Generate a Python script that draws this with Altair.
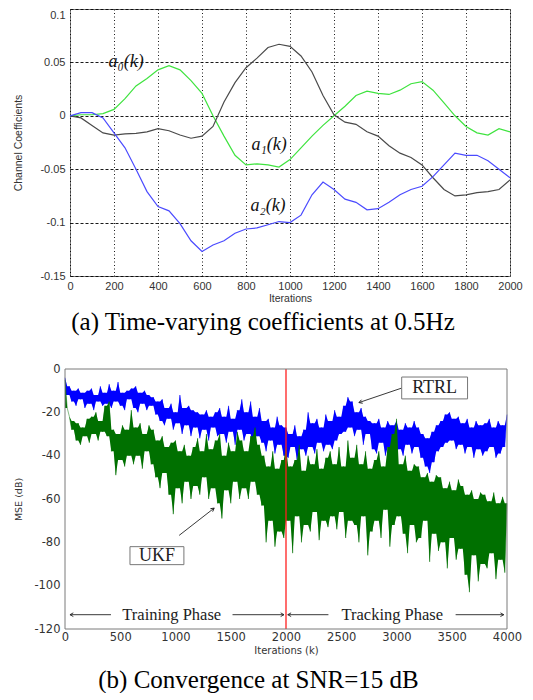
import altair as alt
import pandas as pd

# ---------------- panel (a) data ----------------
ITER_A = list(range(0, 2001, 50))
A0 = [0, 0.001, 0.001, 0.002, 0.006, 0.016, 0.028, 0.035, 0.043, 0.047, 0.043,
      0.033, 0.021, 0.0, -0.019, -0.037, -0.046, -0.045, -0.046, -0.048, -0.041,
      -0.030, -0.019, -0.009, 0.0, 0.009, 0.019, 0.023, 0.021, 0.020, 0.024,
      0.030, 0.032, 0.024, 0.012, 0.0, -0.010, -0.016, -0.018, -0.012, -0.015]
A1 = [0, -0.002, -0.009, -0.016, -0.018, -0.017, -0.0165, -0.015, -0.012, -0.014, -0.018,
      -0.021, -0.019, -0.010, 0.013, 0.031, 0.045, 0.054, 0.064, 0.067, 0.065,
      0.056, 0.041, 0.019, 0.001, -0.006, -0.008, -0.015, -0.019, -0.028, -0.035,
      -0.039, -0.046, -0.058, -0.069, -0.075, -0.074, -0.072, -0.071, -0.069, -0.060]
A2 = [0, 0.003, 0.003, -0.002, -0.016, -0.030, -0.050, -0.071, -0.085, -0.089, -0.101,
      -0.117, -0.127, -0.121, -0.117, -0.110, -0.106, -0.105, -0.102, -0.099, -0.100,
      -0.093, -0.074, -0.062, -0.069, -0.078, -0.081, -0.088, -0.087, -0.081, -0.074,
      -0.069, -0.066, -0.057, -0.046, -0.035, -0.037, -0.037, -0.042, -0.050, -0.058]
SERIES_A = ["a0", "a1", "a2"]
COLORS_A = ["#3fe33f", "#4a4a4a", "#4b4bff"]
LABELS_A = ["a\u2080(k)", "a\u2081(k)", "a\u2082(k)"]
LABEL_K_A = [255, 905, 900]
LABEL_V_A = [0.050, -0.027, -0.084]
X_TICKS_A = list(range(0, 2001, 200))
Y_TICKS_A = [0.1, 0.05, 0, -0.05, -0.1, -0.15]

# ---------------- panel (b) data ----------------
ITER_B = list(range(0, 4001, 20))
RTRL = [-4, -12, -8, -15, -10, -17, -9, -14, -11, -18,
        -10, -16, -9, -19, -12, -15, -8, -17, -11, -16,
        -7, -18, -10, -15, -6, -17, -11, -19, -10, -14,
        -9, -18, -8, -20, -11, -16, -10, -19, -12, -17,
        -13, -21, -15, -24, -14, -26, -18, -23, -16, -28,
        -20, -25, -12, -30, -18, -26, -17, -31, -19, -27,
        -20, -32, -21, -28, -19, -33, -22, -27, -20, -31,
        -18, -30, -22, -34, -17, -29, -23, -35, -19, -28,
        -14, -33, -20, -30, -15, -36, -22, -31, -18, -34,
        -24, -38, -23, -33, -27, -39, -22, -35, -26, -40,
        -27, -41, -30, -36, -26, -42, -31, -37, -28, -40,
        -20, -36, -25, -39, -23, -34, -27, -38, -21, -35,
        -24, -37, -19, -33, -22, -30, -17, -29, -13, -27,
        -15, -31, -20, -28, -18, -35, -22, -30, -24, -37,
        -25, -39, -23, -34, -27, -40, -24, -36, -26, -38,
        -24, -37, -28, -40, -25, -35, -27, -39, -24, -36,
        -27, -41, -30, -45, -32, -48, -29, -43, -26, -38,
        -24, -36, -21, -34, -20, -33, -23, -37, -22, -35,
        -25, -39, -23, -36, -27, -41, -24, -37, -26, -40,
        -25, -38, -23, -36, -27, -41, -24, -39, -26, -36,
        -21]
UKF = [-5, -18, -22, -28, -24, -33, -25, -35, -27, -31,
       -23, -34, -22, -30, -20, -33, -24, -29, -17, -31,
       -15, -38, -28, -49, -30, -42, -26, -45, -28, -40,
       -19, -44, -27, -40, -25, -46, -30, -38, -26, -44,
       -28, -50, -33, -55, -31, -48, -36, -58, -34, -67,
       -33, -55, -38, -62, -35, -52, -40, -60, -36, -54,
       -32, -58, -38, -50, -30, -60, -37, -55, -33, -62,
       -30, -69, -40, -56, -34, -62, -38, -52, -29, -60,
       -33, -55, -38, -60, -31, -52, -27, -58, -35, -63,
       -40, -80, -45, -70, -38, -82, -46, -75, -42, -78,
       -36, -70, -45, -85, -42, -68, -35, -80, -47, -72,
       -40, -75, -44, -66, -37, -79, -46, -70, -41, -73,
       -38, -68, -44, -74, -36, -66, -45, -78, -33, -70,
       -41, -72, -35, -80, -44, -68, -38, -86, -46, -75,
       -42, -70, -38, -78, -45, -65, -36, -82, -30, -72,
       -23, -68, -44, -76, -40, -85, -47, -72, -44, -80,
       -45, -78, -50, -70, -48, -89, -52, -76, -49, -84,
       -50, -80, -55, -92, -52, -78, -56, -88, -51, -83,
       -54, -95, -58, -103, -56, -86, -60, -98, -57, -90,
       -58, -92, -61, -85, -57, -97, -62, -88, -59, -94,
       -62]
X_DOMAIN_B = [0, 4000]
Y_DOMAIN_B = [-120, 0]
X_TICKS_B = list(range(0, 4001, 500))
Y_TICKS_B = [0, -20, -40, -60, -80, -100, -120]
SPLIT_K = [2000]
PHASE_TEXT = ["Training Phase", "Tracking Phase"]
PHASE_TEXT_K = [966, 2962]
PHASE_Y = -113.4
PHASE_SEG_K1 = [416, 1516, 2384, 3535]
PHASE_SEG_K2 = [45, 1982, 2016, 3971]
PHASE_HEAD_ANGLE = [180, 0, 180, 0]
BOX_TEXT = ["RTRL", "UKF"]
BOX_K1 = [3047, 588]
BOX_K2 = [3643, 1076]
BOX_V1 = [-3.7, -82.0]
BOX_V2 = [-13.8, -90.3]
BOX_TEXT_K = [3345, 832]
BOX_TEXT_V = [-8.8, -86.2]
PTR_K1 = [3047, 1033]
PTR_V1 = [-8.8, -76.8]
PTR_K2 = [2660, 1350]
PTR_V2 = [-15.5, -64.2]
PTR_ANGLE = [161, 322]

CAPTION_A = "(a) Time-varying coefficients at 0.5Hz"
CAPTION_B = "(b) Convergence at SNR=15 dB"

SANS_A = "Liberation Sans"
SANS_B = "DejaVu Sans"
SERIF = "Liberation Serif"
ARROW = "M-1,-0.55L0,0L-1,0.55"
FRAME = "#7a7a7a"

# ---------------- panel (a) ----------------
df_a = pd.DataFrame({
    "k": ITER_A * 3,
    "v": A0 + A1 + A2,
    "s": [SERIES_A[0]] * len(A0) + [SERIES_A[1]] * len(A1) + [SERIES_A[2]] * len(A2),
})
df_a_lab = pd.DataFrame({"k": LABEL_K_A, "v": LABEL_V_A, "t": LABELS_A})

xa = alt.X("k:Q", scale=alt.Scale(domain=[0, 2000], nice=False, zero=False),
           axis=alt.Axis(values=X_TICKS_A, format="d", title="Iterations", grid=True,
                         gridDash=[1, 2.5], gridColor="#000", gridOpacity=0.9,
                         ticks=False, domain=False, labelFlush=False,
                         labelFont=SANS_A, labelFontSize=11, labelColor="#333",
                         labelPadding=4, titleFont=SANS_A, titleFontSize=10.5,
                         titleFontWeight="normal", titleColor="#333", titlePadding=2))
ya = alt.Y("v:Q", scale=alt.Scale(domain=[-0.15, 0.1], nice=False, zero=False),
           axis=alt.Axis(values=Y_TICKS_A, title="Channel Coefficients", grid=True,
                         gridDash=[3, 2], gridColor="#000", gridOpacity=0.9,
                         ticks=False, domain=False, labelFlush=False,
                         labelBaseline=alt.ExprRef("datum.value > 0.09 ? 'top' : 'middle'"),
                         labelExpr="datum.value == 0 ? '0' : (datum.value < 0 ? '-' : '') + format(abs(datum.value), '~g')",
                         labelFont=SANS_A, labelFontSize=11, labelColor="#333",
                         labelPadding=5, titleFont=SANS_A, titleFontSize=10.5,
                         titleFontWeight="normal", titleColor="#333", titlePadding=16.5))

lines_a = alt.Chart(df_a).mark_line(strokeWidth=1.2).encode(
    x=xa, y=ya,
    color=alt.Color("s:N", scale=alt.Scale(domain=SERIES_A, range=COLORS_A), legend=None),
)
text_a = alt.Chart(df_a_lab).mark_text(font=SERIF, fontStyle="italic", fontSize=18,
                                       color="#111").encode(x="k:Q", y="v:Q", text="t:N")
panel_a = alt.layer(lines_a, text_a).properties(
    width=440, height=267,
    view=alt.ViewBackground(stroke=FRAME, strokeWidth=1),
    title=alt.Title(CAPTION_A, orient="bottom", font=SERIF, fontSize=25,
                    fontWeight="normal", color="#000", dx=-27, offset=6),
)

# ---------------- panel (b) ----------------
xb_axis = alt.Axis(values=X_TICKS_B, format="d", title="Iterations (k)", grid=False,
                   ticks=False, domain=False, labelFlush=False,
                   labelFont=SANS_B, labelFontSize=11.5, labelColor="#333",
                   labelPadding=2, titleFont=SANS_B, titleFontSize=10,
                   titleFontWeight="normal", titleColor="#333", titlePadding=3)
# plot of panel (b) starts 5px left of panel (a)'s plot
xb_scale = alt.Scale(domain=X_DOMAIN_B, nice=False, zero=False, range=[-5, 437])
yb_axis = alt.Axis(values=Y_TICKS_B, title="MSE (dB)", grid=False,
                   ticks=False, domain=False, labelFlush=False,
                   labelExpr="datum.value < 0 ? '-' + format(abs(datum.value), 'd') : '0'",
                   labelFont=SANS_B, labelFontSize=11.5, labelColor="#333",
                   labelPadding=10, titleFont=SANS_B, titleFontSize=9.5,
                   titleFontWeight="normal", titleColor="#333", titlePadding=10)
yb_scale = alt.Scale(domain=Y_DOMAIN_B, nice=False, zero=False)

SORT_K = [alt.SortField("k")]


def noisy_layers(values, color, first):
    df = pd.DataFrame({"k": ITER_B, "v": values})
    base = alt.Chart(df).transform_window(
        pmax="max(v)", pmin="min(v)", frame=[0, 1], sort=SORT_K
    ).transform_window(
        ctop="min(pmax)", cbot="max(pmin)", frame=[-1, 0], sort=SORT_K
    )
    if first:
        xx = alt.X("k:Q", scale=xb_scale, axis=xb_axis)
        yy = alt.Y("v:Q", scale=yb_scale, axis=yb_axis)
    else:
        xx = alt.X("k:Q")
        yy = alt.Y("v:Q")
    zig = base.mark_line(color=color, strokeWidth=0.8, opacity=0.6).encode(x=xx, y=yy)
    core = base.mark_area(color=color, opacity=1).encode(x="k:Q", y="ctop:Q", y2="cbot:Q")
    return [zig, core]


rtrl_layers = noisy_layers(RTRL, "#0000ff", True)
ukf_layers = noisy_layers(UKF, "#007000", False)

frame_b = alt.Chart(pd.DataFrame({"x1": [X_DOMAIN_B[0]], "x2": [X_DOMAIN_B[1]],
                                  "y1": [Y_DOMAIN_B[0]], "y2": [Y_DOMAIN_B[1]]})).mark_rect(
    filled=False, stroke=FRAME, strokeWidth=1).encode(x="x1:Q", x2="x2:Q", y="y1:Q", y2="y2:Q")

split = alt.Chart(pd.DataFrame({"k": SPLIT_K})).mark_rule(color="#ff2020", strokeWidth=1.3).encode(x="k:Q")

df_seg = pd.DataFrame({"k1": PHASE_SEG_K1, "k2": PHASE_SEG_K2, "v": [PHASE_Y] * 4,
                       "ang": PHASE_HEAD_ANGLE})
seg = alt.Chart(df_seg).mark_rule(color="#222", strokeWidth=0.9).encode(
    x="k1:Q", x2="k2:Q", y="v:Q")
seg_head = alt.Chart(df_seg).mark_point(shape=ARROW, filled=False, size=45, color="#222",
                                        strokeWidth=0.9, opacity=1).encode(
    x="k2:Q", y="v:Q", angle=alt.Angle("ang:Q", scale=None))
phase_txt = alt.Chart(pd.DataFrame({"k": PHASE_TEXT_K, "v": [PHASE_Y] * 2, "t": PHASE_TEXT})).mark_text(
    font=SERIF, fontSize=16.5, color="#222").encode(x="k:Q", y="v:Q", text="t:N")

df_box = pd.DataFrame({"k1": BOX_K1, "k2": BOX_K2, "v1": BOX_V1, "v2": BOX_V2,
                       "tk": BOX_TEXT_K, "tv": BOX_TEXT_V, "t": BOX_TEXT})
box = alt.Chart(df_box).mark_rect(fill="white", stroke="#777", strokeWidth=1).encode(
    x="k1:Q", x2="k2:Q", y="v1:Q", y2="v2:Q")
box_txt = alt.Chart(df_box).mark_text(font=SERIF, fontSize=18, color="#222").encode(
    x="tk:Q", y="tv:Q", text="t:N")

df_ptr = pd.DataFrame({"k1": PTR_K1, "v1": PTR_V1, "k2": PTR_K2, "v2": PTR_V2, "ang": PTR_ANGLE})
ptr = alt.Chart(df_ptr).mark_rule(color="#222", strokeWidth=0.9).encode(
    x="k1:Q", y="v1:Q", x2="k2:Q", y2="v2:Q")
ptr_head = alt.Chart(df_ptr).mark_point(shape=ARROW, filled=False, size=45, color="#222",
                                        strokeWidth=0.9, opacity=1).encode(
    x="k2:Q", y="v2:Q", angle=alt.Angle("ang:Q", scale=None))

panel_b = alt.layer(*rtrl_layers, *ukf_layers, split, seg, seg_head, phase_txt,
                    ptr, ptr_head, box, box_txt, frame_b).properties(
    width=437, height=260,
    view=alt.ViewBackground(stroke="transparent"),
    title=alt.Title(CAPTION_B, orient="bottom", font=SERIF, fontSize=25,
                    fontWeight="normal", color="#000", dx=-30, offset=12),
)

chart = alt.vconcat(panel_a, panel_b, spacing=27).properties(
    padding={"left": 4, "top": 0, "right": 0, "bottom": 0},
)

chart.save("out.html", embed_options={"renderer": "svg", "actions": False})
